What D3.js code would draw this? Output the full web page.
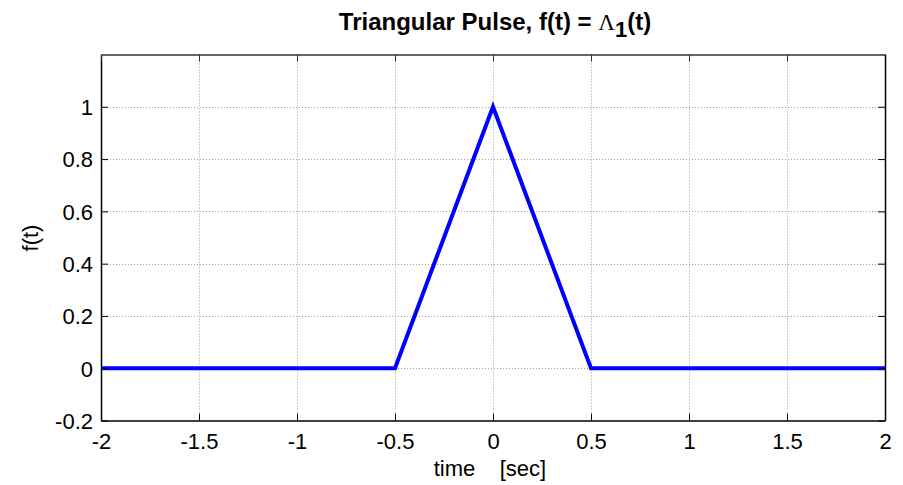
<!DOCTYPE html>
<html><head><meta charset="utf-8">
<script src="https://cdn.jsdelivr.net/npm/d3@7"></script>
<style>
body{margin:0;background:#fff;}
text{font-family:"Liberation Sans",Arial,sans-serif;}
</style></head>
<body><svg id="c" width="903" height="485"></svg>
<script>
const tValues = [-2, -0.5, 0, 0.5, 2];
const fValues = [0, 0, 1, 0, 0];
const xTicks = [-2, -1.5, -1, -0.5, 0, 0.5, 1, 1.5, 2];
const yTicks = [-0.2, 0, 0.2, 0.4, 0.6, 0.8, 1];
const yTickLabels = ["-0.2", "0", "0.2", "0.4", "0.6", "0.8", "1"];
const xTickLabels = ["-2", "-1.5", "-1", "-0.5", "0", "0.5", "1", "1.5", "2"];

const svg = d3.select("#c");
const L = 101, R = 885, T = 54.5, B = 420.5;
const x = d3.scaleLinear().domain([-2, 2]).range([L, R]);
const y = d3.scaleLinear().domain([-0.2, 1.2]).range([B, T]);

// grid
const g = svg.append("g");
g.selectAll("line.vx").data(xTicks.slice(1, -1)).enter().append("line")
  .attr("x1", d => Math.round(x(d)) + 0.5).attr("x2", d => Math.round(x(d)) + 0.5)
  .attr("y1", T).attr("y2", B)
  .attr("stroke", "#a0a0a0").attr("stroke-width", 1).attr("stroke-dasharray", "1,2");
g.selectAll("line.hy").data(yTicks.slice(1)).enter().append("line")
  .attr("y1", d => Math.round(y(d)) + 0.5).attr("y2", d => Math.round(y(d)) + 0.5)
  .attr("x1", L).attr("x2", R)
  .attr("stroke", "#a0a0a0").attr("stroke-width", 1).attr("stroke-dasharray", "1,2");

// data line
svg.append("path")
  .datum(tValues.map((t, i) => [t, fValues[i]]))
  .attr("d", d3.line().x(d => x(d[0])).y(d => y(d[1])))
  .attr("fill", "none").attr("stroke", "#0000ff").attr("stroke-width", 4)
  .attr("stroke-linejoin", "miter");

// axes (ticks inward)
const fmtX = (d, i) => xTickLabels[i];
const fmtY = (d, i) => yTickLabels[i];
const xAxis = svg.append("g").attr("transform", `translate(0,${B})`)
  .call(d3.axisBottom(x).tickValues(xTicks).tickFormat(fmtX).tickSizeInner(-7).tickSizeOuter(0).tickPadding(16));
const yAxis = svg.append("g").attr("transform", `translate(${L},0)`)
  .call(d3.axisLeft(y).tickValues(yTicks).tickFormat(fmtY).tickSizeInner(-7).tickSizeOuter(0).tickPadding(8));
const xTop = svg.append("g").attr("transform", `translate(0,${T})`)
  .call(d3.axisTop(x).tickValues(xTicks).tickFormat("").tickSizeInner(-7).tickSizeOuter(0));
const yRight = svg.append("g").attr("transform", `translate(${R},0)`)
  .call(d3.axisRight(y).tickValues(yTicks).tickFormat("").tickSizeInner(-7).tickSizeOuter(0));
[xAxis, yAxis].forEach(a => {
  a.selectAll("path.domain").attr("stroke", "#000").attr("stroke-width", 1.5);
  a.selectAll(".tick line").attr("stroke", "#000");
  a.selectAll("text").attr("font-size", 22).attr("fill", "#000")
    .attr("font-family", "'Liberation Sans', Arial, sans-serif");
});
xTop.selectAll("path.domain").attr("stroke", "#666").attr("stroke-width", 2);
xTop.selectAll(".tick line").attr("stroke", "#333");
yRight.selectAll("path.domain").attr("stroke", "#000").attr("stroke-width", 1.5);
yRight.selectAll(".tick line").attr("stroke", "#000");
xAxis.selectAll("text").attr("dy", "0.71em").attr("y", 13);
yAxis.selectAll("text").attr("dy", "0.36em");

// title
const title = svg.append("text").attr("x", 495).attr("y", 30).attr("text-anchor", "middle")
  .attr("font-size", 24).attr("font-weight", "bold").attr("fill", "#000");
title.append("tspan").text("Triangular Pulse, f(t) = ");
title.append("tspan").attr("font-weight", "normal").attr("font-family", "'Liberation Serif', serif").attr("font-size", 23).text("Λ");
title.append("tspan").attr("dy", 7).attr("font-size", 22).text("1");
title.append("tspan").attr("dy", -7).text("(t)");

// axis labels
svg.append("text").attr("x", 490).attr("y", 476).attr("text-anchor", "middle")
  .attr("font-size", 22).attr("fill", "#000").attr("xml:space", "preserve").text("time    [sec]");
svg.append("text").attr("transform", "translate(38,238) rotate(-90)").attr("text-anchor", "middle")
  .attr("font-size", 22).attr("fill", "#000").text("f(t)");
</script></body></html>
